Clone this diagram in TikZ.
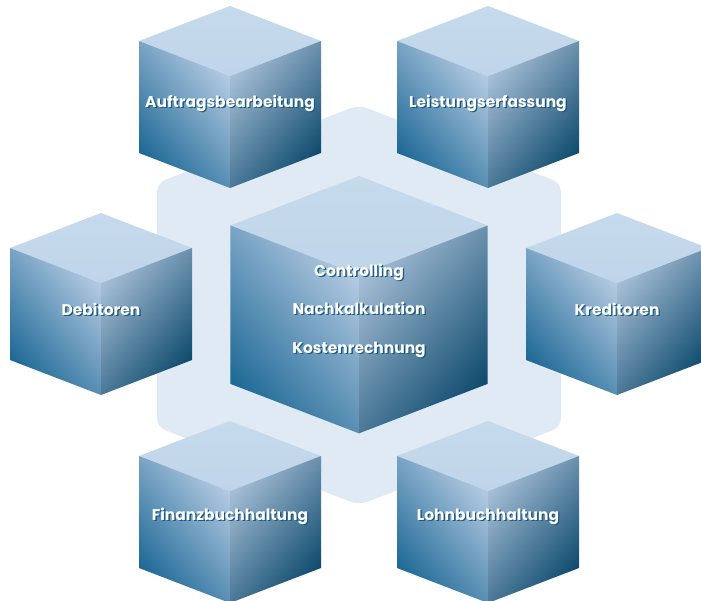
\documentclass[tikz,border=0pt]{standalone}
\usepackage{fontspec}
\setmainfont{Poppins}
\definecolor{hexbg}{HTML}{E0EAF4}
\definecolor{topc}{HTML}{BFD5E9}
\definecolor{topl}{HTML}{C6DAEC}
\definecolor{ldark}{HTML}{1E6996}
\definecolor{lmid}{HTML}{6F98BD}
\definecolor{llight}{HTML}{B4CAE2}
\definecolor{rlight}{HTML}{A6BED6}
\definecolor{rmid}{HTML}{587E9F}
\definecolor{rdark}{HTML}{0F4B6E}
\definecolor{shadowc}{HTML}{1D5A82}
\tikzset{
  topface/.style={top color=topl, bottom color=topc},
  leftface/.style={left color=ldark, middle color=lmid, right color=llight, shading angle=130},
  rightface/.style={left color=rlight, middle color=rmid, right color=rdark, shading angle=50},
  lbl/.style={anchor=base, text=white, font=\bfseries\fontsize{15.5}{18}\selectfont, inner sep=0pt},
  lblshadow/.style={lbl, text=shadowc},
  hexagon/.style={fill=hexbg, rounded corners=9pt}
}
\newcommand{\mycube}[3]{%
  \begin{scope}[shift={(#1,#2)}, scale=#3]
    \shade[topface] (0,0) -- (91,35) -- (0,70) -- (-91,35) -- cycle;
    \shade[leftface] (-91,35) -- (0,70) -- (0,182) -- (-91,147) -- cycle;
    \shade[rightface] (0,70) -- (91,35) -- (91,147) -- (0,182) -- cycle;
  \end{scope}}
\newcommand{\cubelabel}[4]{%
  \node[lblshadow] (#1-s) at (#2+1.4,#3+1.4) {#4};
  \node[lbl] (#1) at (#2,#3) {#4};}
\begin{document}
\begin{tikzpicture}[x=1pt,y=-1pt]
  \clip (0,0) rectangle (701,600);
  \fill[white] (0,0) rectangle (701,600);
  \fill[hexagon] (359,105) -- (561,183) -- (561,427) -- (359,505) -- (157,427) -- (157,183) -- cycle;
  % cubes
  \mycube{230}{6}{1}
  \mycube{488}{6}{1}
  \mycube{101}{213}{1}
  \mycube{617}{213}{1}
  \mycube{359}{176}{1.414}
  \mycube{230}{421}{1}
  \mycube{488}{421}{1}
  % labels
  \cubelabel{auftrag}{230}{107}{Auftragsbearbeitung}
  \cubelabel{leistung}{488}{107}{Leistungserfassung}
  \cubelabel{debitoren}{101}{315}{Debitoren}
  \cubelabel{kreditoren}{617}{315}{Kreditoren}
  \cubelabel{controlling}{359}{276}{Controlling}
  \cubelabel{nachkalk}{359}{314}{Nachkalkulation}
  \cubelabel{kosten}{359}{353}{Kostenrechnung}
  \cubelabel{finanz}{230}{520}{Finanzbuchhaltung}
  \cubelabel{lohn}{488}{520}{Lohnbuchhaltung}
\end{tikzpicture}
\end{document}
